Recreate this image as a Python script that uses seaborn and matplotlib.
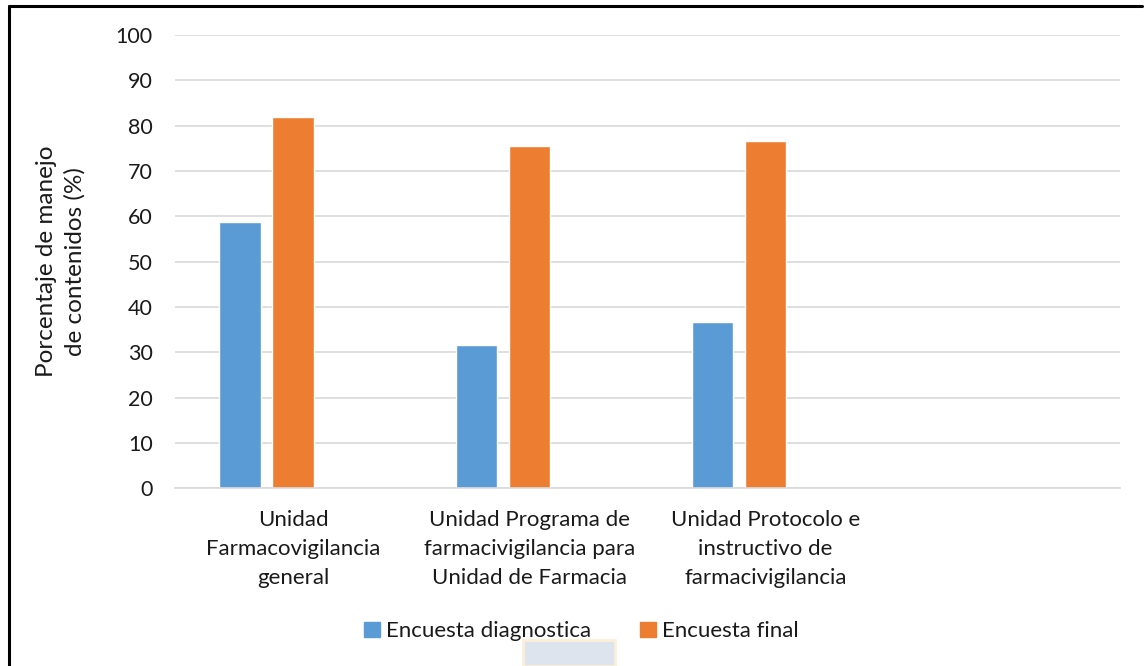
import pandas as pd
import seaborn as sns
import matplotlib.pyplot as plt
from matplotlib.lines import Line2D
from matplotlib.patches import Rectangle

# ---------------------------------------
# 1. Data
# ---------------------------------------
categories = [
    "Unidad\nFarmacovigilancia\ngeneral",
    "Unidad Programa de\nfarmacivigilancia para\nUnidad de Farmacia",
    "Unidad Protocolo e\ninstructivo de\nfarmacivigilancia",
]
diagnostica = [58.8, 31.7, 36.6]
final = [82.0, 75.6, 76.6]
series = ["Encuesta diagnostica", "Encuesta final"]
colors = ["#5b9bd5", "#ed7d31"]

# empty slots kept by the original Excel chart (4th category, 3rd series)
empty_cat = " "
empty_series = "Serie3"

df = pd.DataFrame({
    "Categoria": categories * 2,
    "Serie": [series[0]] * 3 + [series[1]] * 3,
    "Valor": diagnostica + final,
})

# ---------------------------------------
# 2. Theme
# ---------------------------------------
sns.set_theme(style="white")
plt.rcParams["font.family"] = ["Lato", "DejaVu Sans"]
text_color = "#1a1a1a"

fig = plt.figure(figsize=(11.47, 6.66), dpi=100)
ax = fig.add_axes([0.1526, 0.267, 0.8239, 0.6804])

sns.barplot(
    data=df,
    x="Categoria",
    y="Valor",
    hue="Serie",
    order=categories + [empty_cat],
    hue_order=series + [empty_series],
    palette=colors + ["#a5a5a5"],
    saturation=1,
    width=0.675,
    gap=0.22,
    errorbar=None,
    legend=False,
    ax=ax,
)

# ---------------------------------------
# 3. Axes styling
# ---------------------------------------
ax.set_ylim(0, 100)
ax.set_yticks(range(0, 101, 10))
ax.yaxis.grid(True, color="#d9d9d9", linewidth=1.2)
ax.set_axisbelow(True)
for side in ["top", "right", "left"]:
    ax.spines[side].set_visible(False)
ax.spines["bottom"].set_color("#d9d9d9")
ax.spines["bottom"].set_linewidth(1.2)
ax.tick_params(axis="y", length=0, labelsize=15.5, colors=text_color, pad=16)
ax.tick_params(axis="x", length=0, labelsize=16, colors=text_color, pad=16)
ax.set_xticks(range(4))
ax.set_xticklabels(categories + [""], linespacing=1.55)
ax.set_xlabel("")
ax.set_ylabel("Porcentaje de manejo\nde contenidos (%)", fontsize=17.5,
              color=text_color, labelpad=22, linespacing=1.35)

# legend
handles = [Rectangle((0, 0), 1, 1, color=c) for c in colors]
fig.legend(handles, series, loc="center", bbox_to_anchor=(0.507, 0.052),
           ncol=2, frameon=False, fontsize=16, handlelength=0.7,
           handleheight=0.7, handletextpad=0.3, columnspacing=2.2,
           labelcolor=text_color)

# frame lines of the original figure (left and top)
fig.add_artist(Line2D([0.0075, 0.0075], [0, 0.991], color="black",
                      linewidth=2.2, transform=fig.transFigure))
fig.add_artist(Line2D([0.0075, 0.996], [0.991, 0.991], color="black",
                      linewidth=2.2, transform=fig.transFigure))

# faded logo patch at the bottom edge
fig.add_artist(Rectangle((523 / 1147, 0), 92 / 1147, 26 / 666,
                         facecolor="#dde4ee", edgecolor="#fbefd8",
                         linewidth=2, transform=fig.transFigure))

fig.savefig("out.png", dpi=100)
